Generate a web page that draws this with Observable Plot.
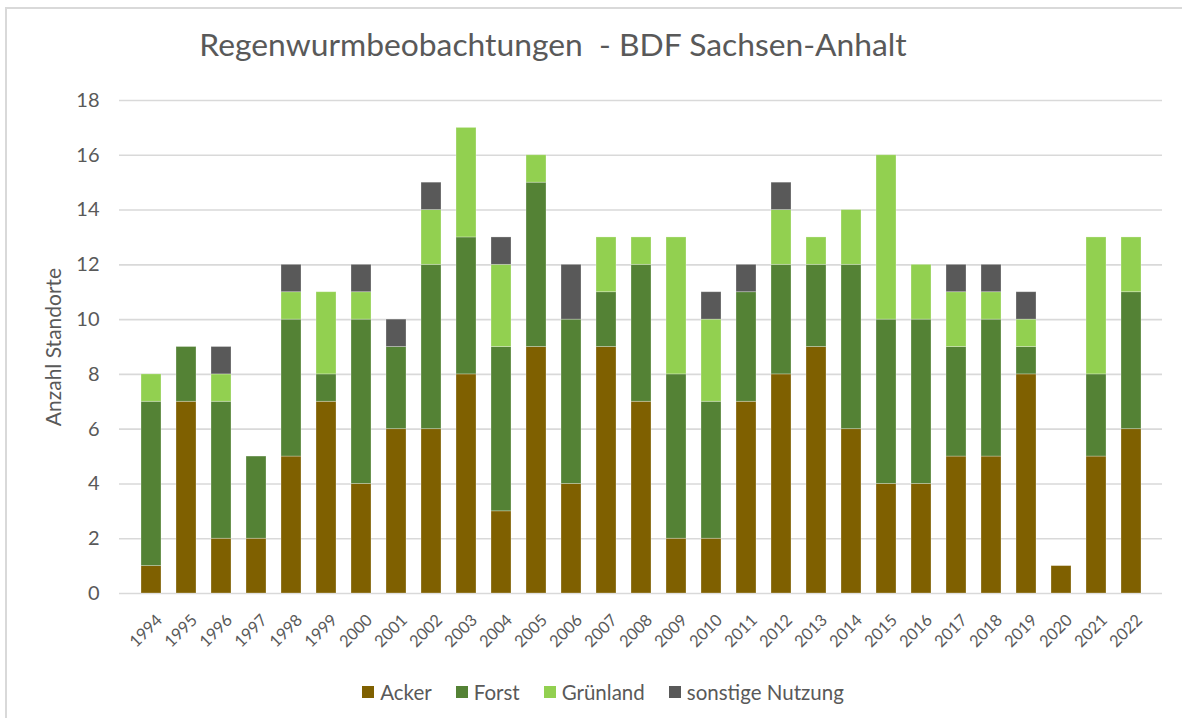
<!DOCTYPE html>
<html>
<head>
<meta charset="utf-8">
<script src="https://cdn.jsdelivr.net/npm/d3@7"></script>
<script src="https://cdn.jsdelivr.net/npm/@observablehq/plot@0.6"></script>
<style>
  html, body { margin: 0; padding: 0; background: #fff; }
  body { width: 1182px; height: 718px; overflow: hidden; position: relative; font-family: Lato, "Open Sans", sans-serif; }
  #frame { position: absolute; left: 5px; top: 7px; width: 1200px; height: 730px; border-left: 2px solid #d9d9d9; border-top: 2px solid #d9d9d9; box-sizing: border-box; }
  #title { position: absolute; left: 0; top: 25px; width: 1106px; text-align: center; font-size: 31.8px; line-height: 38px; color: #595959; white-space: pre; }
  #chart { position: absolute; left: 0; top: 70px; }
  #legend { position: absolute; left: 0; top: 679px; width: 1206px; display: flex; justify-content: center; gap: 24px; font-size: 20.5px; line-height: 26px; color: #595959; }
  #legend span.item { display: inline-flex; align-items: center; gap: 6px; }
  #legend span.sw { display: inline-block; width: 12px; height: 12px; }
</style>
</head>
<body>
<div id="frame"></div>
<div id="title">Regenwurmbeobachtungen  - BDF Sachsen-Anhalt</div>
<div id="chart"></div>
<div id="legend"></div>
<script>
const years = ["1994","1995","1996","1997","1998","1999","2000","2001","2002","2003","2004","2005","2006","2007","2008","2009","2010","2011","2012","2013","2014","2015","2016","2017","2018","2019","2020","2021","2022"];
const acker     = [1,7,2,2,5,7,4,6,6,8,3,9,4,9,7,2,2,7,8,9,6,4,4,5,5,8,1,5,6];
const forst     = [6,2,5,3,5,1,6,3,6,5,6,6,6,2,5,6,5,4,4,3,6,6,6,4,5,1,0,3,5];
const gruenland = [1,0,1,0,1,3,1,0,2,4,3,1,0,2,1,5,3,0,2,1,2,6,2,2,1,1,0,5,2];
const sonstige  = [0,0,1,0,1,0,1,1,1,0,1,0,2,0,0,0,1,1,1,0,0,0,0,1,1,1,0,0,0];
const seriesNames = ["Acker","Forst","Grünland","sonstige Nutzung"];
const seriesColors = ["#7f6000","#548235","#92d050","#595959"];
const yTicks = [0,2,4,6,8,10,12,14,16,18];

const seriesValues = [acker, forst, gruenland, sonstige];
const data = [];
years.forEach((yr, i) => {
  seriesNames.forEach((s, k) => {
    data.push({year: yr, type: s, value: seriesValues[k][i]});
  });
});

const chart = Plot.plot({
  width: 1182,
  height: 590,
  marginLeft: 119,
  marginRight: 20,
  marginTop: 30,
  marginBottom: 67,
  style: {fontFamily: "Lato, 'Open Sans', sans-serif", color: "#595959", background: "transparent"},
  x: {domain: years, paddingInner: 0.43, paddingOuter: 0.22, label: null},
  y: {domain: [0, 18], ticks: yTicks, label: null},
  color: {domain: seriesNames, range: seriesColors},
  marks: [
    Plot.gridY(yTicks, {stroke: "#d9d9d9", strokeOpacity: 1, strokeWidth: 1.6}),
    Plot.barY(data, Plot.stackY({x: "year", y: "value", fill: "type", order: null, stroke: "#ffffff", strokeOpacity: 0.35, strokeWidth: 0.8})),
    Plot.axisY(yTicks, {tickSize: 0, tickPadding: 20, fontSize: 20, fill: "#595959",
      label: "Anzahl Standorte", labelAnchor: "center", labelOffset: 73, labelArrow: "none"}),
    Plot.axisX({tickSize: 0, tickPadding: 24, tickRotate: -45, fontSize: 16.5, dx: 8, fill: "#595959", label: null})
  ]
});
chart.querySelectorAll("text").forEach(t => {
  if (t.textContent === "Anzahl Standorte") t.setAttribute("font-size", "21");
});
document.getElementById("chart").appendChild(chart);

const legend = document.getElementById("legend");
seriesNames.forEach((s, k) => {
  const item = document.createElement("span");
  item.className = "item";
  const sw = document.createElement("span");
  sw.className = "sw";
  sw.style.background = seriesColors[k];
  const tx = document.createElement("span");
  tx.textContent = s;
  item.appendChild(sw); item.appendChild(tx);
  legend.appendChild(item);
});
</script>
</body>
</html>
